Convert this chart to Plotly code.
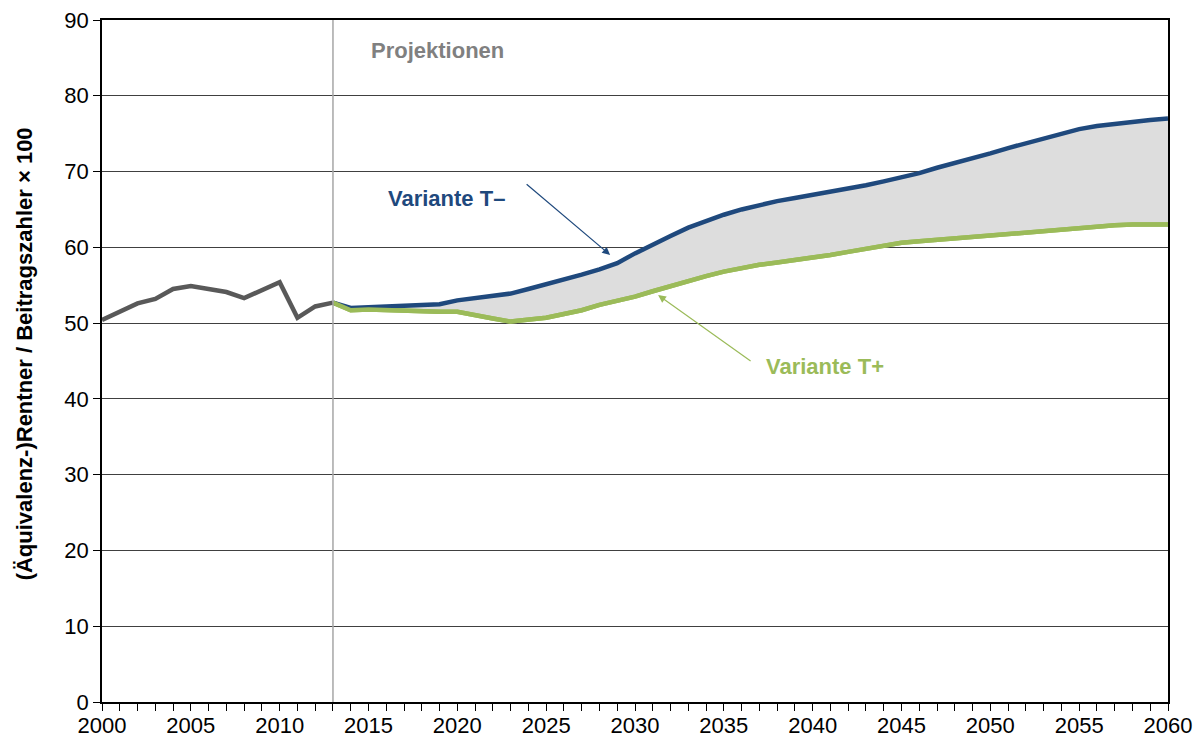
import plotly.graph_objects as go

# ---- data ----
hist_years = list(range(2000, 2014))
hist_vals = [50.4, 51.5, 52.6, 53.2, 54.5, 54.9, 54.5, 54.1, 53.3, 54.4, 55.4, 50.7, 52.2, 52.7]

proj_years = list(range(2013, 2061))
t_minus = [52.7, 52.0, 52.1, 52.2, 52.3, 52.4, 52.5, 53.0, 53.3, 53.6,
           53.9, 54.5, 55.1, 55.7, 56.4, 57.1, 57.9, 59.2, 60.4, 61.5,
           62.6, 63.5, 64.3, 65.0, 65.6, 66.1, 66.5, 66.9, 67.3, 67.7,
           68.2, 68.7, 69.2, 69.8, 70.5, 71.1, 71.8, 72.4, 73.1, 73.7,
           74.4, 75.0, 75.6, 76.0, 76.3, 76.6, 76.8, 77.0]
t_plus = [52.7, 51.7, 51.8, 51.7, 51.6, 51.6, 51.5, 51.5, 51.0, 50.6,
          50.2, 50.4, 50.7, 51.2, 51.7, 52.4, 52.9, 53.5, 54.2, 54.9,
          55.6, 56.2, 56.8, 57.3, 57.7, 58.0, 58.3, 58.7, 59.0, 59.4,
          59.8, 60.2, 60.6, 60.8, 61.0, 61.2, 61.4, 61.6, 61.8, 62.0,
          62.2, 62.4, 62.6, 62.8, 62.9, 63.0, 63.0, 63.0]

x_tick_vals = list(range(2000, 2061, 5))
y_tick_vals = list(range(0, 91, 10))

BLUE = "#1F497D"
GREEN = "#9BBB59"
GREY = "#595959"
FONT = "Arial, Liberation Sans, sans-serif"

fig = go.Figure()
fig.add_trace(go.Scatter(x=proj_years, y=t_plus, mode="lines",
                         line=dict(color=GREEN, width=4.5), showlegend=False))
fig.add_trace(go.Scatter(x=proj_years, y=t_minus, mode="lines", fill="tonexty",
                         fillcolor="#DDDDDD",
                         line=dict(color=BLUE, width=4.5), showlegend=False))
fig.add_trace(go.Scatter(x=proj_years, y=t_plus, mode="lines",
                         line=dict(color=GREEN, width=4.5), showlegend=False))
fig.add_trace(go.Scatter(x=hist_years, y=hist_vals, mode="lines",
                         line=dict(color=GREY, width=4.5), showlegend=False))

fig.add_shape(type="line", x0=2013, x1=2013, y0=0, y1=90, xref="x", yref="y",
              line=dict(color="#A6A6A6", width=1.5), layer="above")

fig.add_annotation(x=2018.9, y=86.0, text="<b>Projektionen</b>", showarrow=False,
                   font=dict(family=FONT, size=22, color="#808080"))
fig.add_annotation(x=2019.4, y=66.5, text="<b>Variante T–</b>", showarrow=False,
                   font=dict(family=FONT, size=22, color=BLUE))
fig.add_annotation(x=2040.7, y=44.3, text="<b>Variante T+</b>", showarrow=False,
                   font=dict(family=FONT, size=22, color=GREEN))
fig.add_annotation(x=2028.6, y=59.0, ax=-85, ay=-72, text="", showarrow=True,
                   arrowhead=2, arrowsize=1.3, arrowwidth=1.2, arrowcolor=BLUE)
fig.add_annotation(x=2031.3, y=53.7, ax=94, ay=67, text="", showarrow=True,
                   arrowhead=2, arrowsize=1.3, arrowwidth=1.2, arrowcolor=GREEN)

fig.add_annotation(xref="paper", yref="paper", x=-0.073, y=0.51,
                   text="<b>(Äquivalenz-)Rentner / Beitragszahler × 100</b>",
                   textangle=-90, showarrow=False, xanchor="center", yanchor="middle",
                   font=dict(family=FONT, size=22, color="black"))

fig.update_layout(
    template="none",
    width=1202, height=740,
    margin=dict(l=102, r=34, t=20, b=38, autoexpand=False),
    paper_bgcolor="white", plot_bgcolor="white",
    font=dict(family=FONT, size=22, color="black"),
    xaxis=dict(range=[2000, 2060], tickvals=x_tick_vals, ticks="outside", ticklen=7,
               tickcolor="black", showgrid=False, zeroline=False, automargin=False,
               showline=True, linecolor="black", linewidth=1.5, mirror=True,
               ticklabelstandoff=-4,
               minor=dict(dtick=1, ticks="outside", ticklen=7, tickcolor="black", showgrid=False),
               tickfont=dict(size=22)),
    yaxis=dict(range=[0, 90], tickvals=y_tick_vals, ticks="outside", ticklen=7,
               tickcolor="black", showgrid=True, gridcolor="#404040", gridwidth=1,
               zeroline=False, showline=True, linecolor="black", linewidth=1.5,
               automargin=False, mirror=True, tickfont=dict(size=22)),
)

fig.write_html("out.html", config={"displayModeBar": False},
               post_script="document.body.style.margin='0px';")
